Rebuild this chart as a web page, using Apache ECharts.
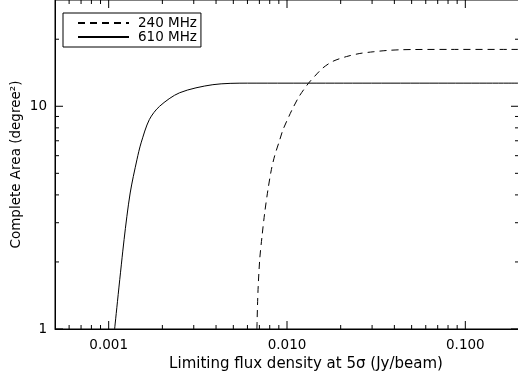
<!DOCTYPE html>
<html>
<head>
<meta charset="utf-8">
<script src="https://cdn.jsdelivr.net/npm/echarts@6/dist/echarts.min.js"></script>
<style>
  html, body { margin: 0; padding: 0; background: #fff; }
  #chart { width: 518px; height: 378px; }
</style>
</head>
<body>
<div id="chart"></div>
<script>
// Completeness area versus limiting 5-sigma flux density
const flux240 = [0.00678, 0.00687, 0.00703, 0.00724, 0.0075, 0.00782, 0.00817, 0.00853, 0.00902, 0.0095,
                 0.01026, 0.0108, 0.01172, 0.01312, 0.0143, 0.01592, 0.01813, 0.02157, 0.02561, 0.0304,
                 0.0362, 0.043, 0.051, 0.08, 0.2];
const area240 = [1, 1.455, 2.05, 2.6, 3.33, 4.22, 5.19, 6.0, 6.9, 7.85,
                 9.02, 9.83, 11.1, 12.61, 13.64, 14.88, 15.93, 16.72, 17.26, 17.56,
                 17.8, 17.93, 17.98, 18.0, 18.0];

const flux610 = [0.00108, 0.00122, 0.00132, 0.00144, 0.00152, 0.00169, 0.00193, 0.0025, 0.00384, 0.006, 0.01, 0.2];
const area610 = [1, 2.52, 4.08, 5.75, 6.85, 8.71, 10, 11.5, 12.5, 12.7, 12.7, 12.7];

const seriesNames = ['240 MHz', '610 MHz'];

// Axis ranges and tick positions (major and minor, log decades)
const X_MIN = 0.0005, X_MAX = 0.2, Y_MIN = 1, Y_MAX = 30;
const xMajorTicks = [0.001, 0.01, 0.1];
const xMinorTicks = [0.0006, 0.0007, 0.0008, 0.0009,
                     0.002, 0.003, 0.004, 0.005, 0.006, 0.007, 0.008, 0.009,
                     0.02, 0.03, 0.04, 0.05, 0.06, 0.07, 0.08, 0.09];
const yMajorTicks = [1, 10];
const yMinorTicks = [2, 3, 4, 5, 6, 7, 8, 9, 20];

const FONT = '"DejaVu Sans", sans-serif';
const MAJOR_LEN = 8, MINOR_LEN = 4;

const pairs = (xs, ys) => xs.map((x, i) => [x, ys[i]]);

// Tick marks on all four sides, pointing inward: [x, y, side, length]
// side: 0 bottom, 1 top, 2 left, 3 right
const tickData = [];
xMajorTicks.forEach(v => { tickData.push([v, Y_MIN, 0, MAJOR_LEN], [v, Y_MAX, 1, MAJOR_LEN]); });
xMinorTicks.forEach(v => { tickData.push([v, Y_MIN, 0, MINOR_LEN], [v, Y_MAX, 1, MINOR_LEN]); });
yMajorTicks.forEach(v => { tickData.push([X_MIN, v, 2, MAJOR_LEN], [X_MAX, v, 3, MAJOR_LEN]); });
yMinorTicks.forEach(v => { tickData.push([X_MIN, v, 2, MINOR_LEN], [X_MAX, v, 3, MINOR_LEN]); });

const isDecade = v => {
  const l = Math.log10(v);
  return Math.abs(l - Math.round(l)) < 1e-6;
};

const chart = echarts.init(document.getElementById('chart'), null, { renderer: 'canvas' });

chart.setOption({
  animation: false,
  backgroundColor: '#fff',
  grid: {
    left: 55, top: 0, right: -1, bottom: 49,
    outerBoundsMode: 'none',
    containLabel: false,
    show: true, borderColor: '#000', borderWidth: 1, backgroundColor: 'transparent'
  },
  legend: {
    left: 63, top: 13,
    orient: 'vertical',
    itemWidth: 51, itemHeight: 14, itemGap: 0,
    padding: [3, 4, 3, 14],
    borderColor: '#000', borderWidth: 1, borderRadius: 0,
    backgroundColor: '#fff',
    selectedMode: false,
    itemStyle: { opacity: 0 },
    textStyle: { fontFamily: FONT, fontSize: 13.5, color: '#000', padding: [0, 0, 0, 4] },
    data: seriesNames
  },
  xAxis: {
    type: 'log', logBase: 10, min: X_MIN, max: X_MAX,
    axisLine: { show: true, lineStyle: { color: '#000', width: 1 } },
    axisTick: { show: false },
    splitLine: { show: false },
    axisLabel: {
      color: '#000', fontFamily: FONT, fontSize: 13.5, margin: 9,
      formatter: v => isDecade(v) ? v.toFixed(3) : ''
    },
    name: 'Limiting flux density at 5σ (Jy/beam)',
    nameLocation: 'middle', nameGap: 28, nameMoveOverlap: false,
    nameTextStyle: { color: '#000', fontFamily: FONT, fontSize: 15, padding: [0, 0, 0, 38] }
  },
  yAxis: {
    type: 'log', logBase: 10, min: Y_MIN, max: Y_MAX,
    axisLine: { show: true, lineStyle: { color: '#000', width: 1 } },
    axisTick: { show: false },
    splitLine: { show: false },
    axisLabel: {
      color: '#000', fontFamily: FONT, fontSize: 13.5, margin: 8,
      formatter: v => isDecade(v) ? String(Math.round(v)) : ''
    },
    name: 'Complete Area (degree²)',
    nameLocation: 'middle', nameGap: 32, nameMoveOverlap: false,
    nameTextStyle: { color: '#000', fontFamily: FONT, fontSize: 13.5 }
  },
  series: [
    {
      name: seriesNames[0], type: 'line',
      data: pairs(flux240, area240),
      symbol: 'none', smooth: 0.3,
      lineStyle: { color: '#000', width: 1, type: [7, 5] },
      itemStyle: { color: '#000' }
    },
    {
      name: seriesNames[1], type: 'line',
      data: pairs(flux610, area610),
      symbol: 'none', smooth: 0.3,
      lineStyle: { color: '#000', width: 1, type: 'solid' },
      itemStyle: { color: '#000' }
    },
    {
      type: 'custom', silent: true, clip: false,
      data: tickData,
      renderItem: (params, api) => {
        const p = api.coord([api.value(0), api.value(1)]);
        const side = api.value(2), len = api.value(3);
        const dx = side === 2 ? len : side === 3 ? -len : 0;
        const dy = side === 0 ? -len : side === 1 ? len : 0;
        return {
          type: 'line',
          shape: { x1: p[0], y1: p[1], x2: p[0] + dx, y2: p[1] + dy },
          style: { stroke: '#000', lineWidth: 1 }
        };
      }
    }
  ]
});
</script>
</body>
</html>
